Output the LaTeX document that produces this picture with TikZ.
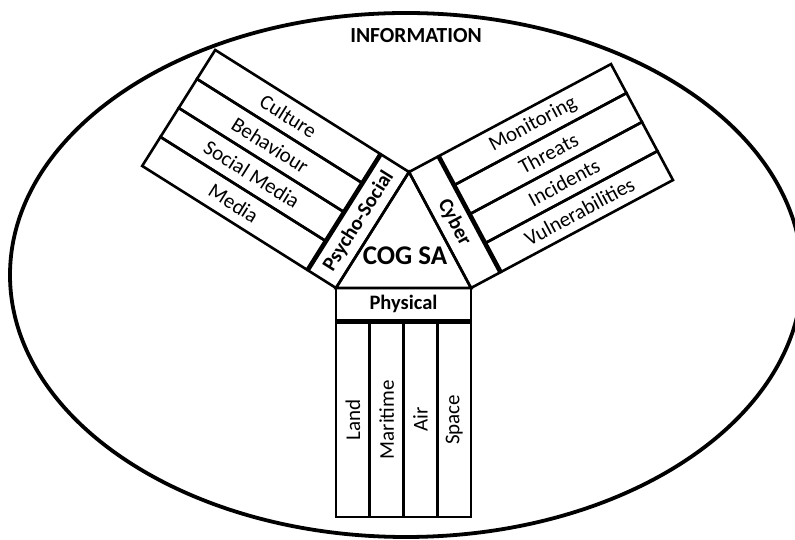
\documentclass[tikz,border=0pt]{standalone}
\usepackage{fontspec}
\setmainfont{Carlito}
\begin{document}
\begin{tikzpicture}[x=1pt,y=1pt,
  line width=2.6pt, line join=miter,
  strip/.style={draw, rectangle, inner sep=0pt, outer sep=0pt,
    minimum width=194.5pt, minimum height=#1,
    font=\fontsize{21}{24}\selectfont},
  band/.style={draw, rectangle, inner sep=0pt, outer sep=0pt,
    minimum width=#1, minimum height=32.5pt,
    font=\bfseries\fontsize{20.5}{24}\selectfont},
]
\useasboundingbox (0,0) rectangle (795,540);
\draw[line width=3.8pt] (406,265) ellipse [x radius=396, y radius=262];
\node[font=\bfseries\fontsize{21.5}{24}\selectfont] (info) at (416,504) {INFORMATION};

\coordinate (P1) at (336,252);
\coordinate (P2) at (471,252);
\coordinate (T) at (409,368);
\draw (P1) -- (P2) -- (T) -- cycle;
\node[font=\bfseries\fontsize{27}{30}\selectfont] (cog) at (405,284) {COG SA};

% Physical arm
\begin{scope}[shift={(P1)}, transform shape]
  \node[band=135pt] (phys) at (67.5,-16.25) {Physical};
  \node[strip=33.75pt, rotate=90] (land) at (16.875,-131.75) {Land};
  \node[strip=33.75pt, rotate=90] (mari) at (50.625,-131.75) {Maritime};
  \node[strip=33.75pt, rotate=90] (air) at (84.375,-131.75) {Air};
  \node[strip=33.75pt, rotate=90] (space) at (118.125,-131.75) {Space};
\end{scope}

% Cyber arm
\begin{scope}[shift={(P2)}, rotate=118.12, transform shape]
  \node[band=131.5pt, rotate=180] (cyber) at (65.75,-16.25) {Cyber};
  \node[strip=32.875pt, rotate=-90] (vuln) at (16.44,-131.75) {Vulnerabilities};
  \node[strip=32.875pt, rotate=-90] (inc) at (49.31,-131.75) {Incidents};
  \node[strip=32.875pt, rotate=-90] (thr) at (82.19,-131.75) {Threats};
  \node[strip=32.875pt, rotate=-90] (mon) at (115.06,-131.75) {Monitoring};
\end{scope}

% Psycho-Social arm
\begin{scope}[shift={(T)}, rotate=237.8, transform shape]
  \node[band=137.06pt, rotate=180] (psy) at (68.53,-16.25) {Psycho-Social};
  \node[strip=34.265pt, rotate=90] (cult) at (17.13,-131.75) {Culture};
  \node[strip=34.265pt, rotate=90] (beh) at (51.40,-131.75) {Behaviour};
  \node[strip=34.265pt, rotate=90] (socm) at (85.66,-131.75) {Social Media};
  \node[strip=34.265pt, rotate=90] (med) at (119.93,-131.75) {Media};
\end{scope}
\end{tikzpicture}
\end{document}
